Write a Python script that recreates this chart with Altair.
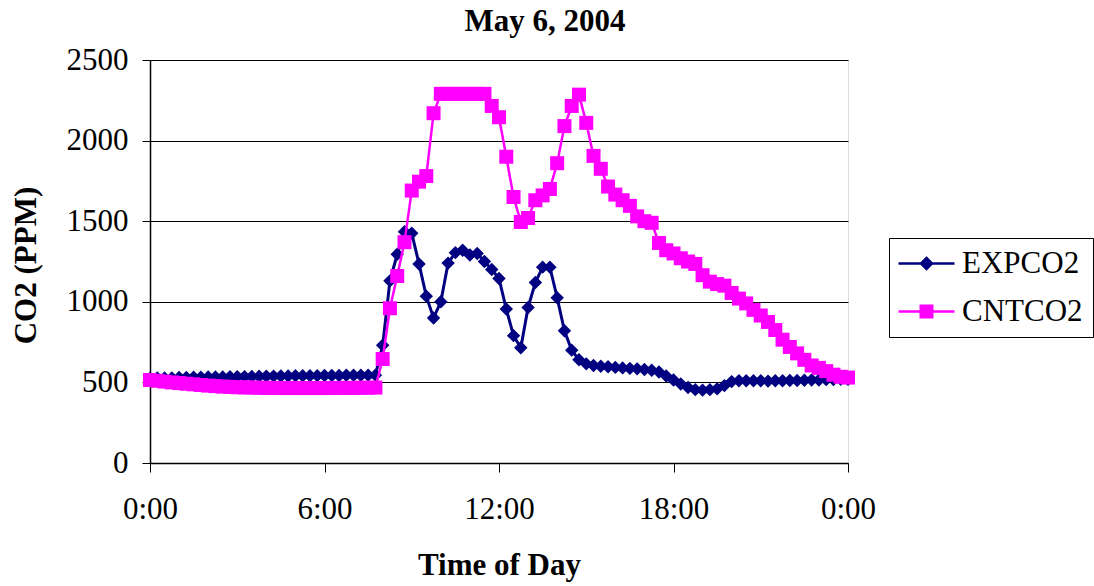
import altair as alt
import pandas as pd

# 15-minute readings, 0:00 .. 24:00 (97 points)
hours = [i * 0.25 for i in range(97)]

exp_co2 = [
    525, 527, 528, 528, 530, 531, 532, 532, 533, 534, 534, 535, 536, 536, 537, 538,
    538, 539, 540, 540, 541, 541, 542, 542, 543, 543, 543, 544, 544, 544, 545, 545,
    730, 1130, 1295, 1435, 1425, 1235, 1035, 900, 1000, 1240, 1305, 1320, 1290, 1300,
    1250, 1200, 1145, 955, 790, 715, 965, 1120, 1215, 1215, 1025, 820, 700, 640, 615,
    605, 600, 597, 593, 590, 587, 584, 580, 575, 565, 540, 515, 490, 468, 455, 452,
    455, 460, 480, 505, 510, 510, 510, 510, 508, 510, 510, 512, 512, 513, 515, 515,
    517, 518, 520, 520,
]

cnt_co2 = [
    515, 510, 505, 500, 496, 492, 488, 484, 480, 477, 474, 472, 470, 469, 468, 467,
    466, 466, 465, 465, 465, 465, 465, 465, 465, 465, 466, 466, 466, 467, 467, 468,
    645, 960, 1160, 1370, 1690, 1745, 1780, 2170, 2290, 2290, 2290, 2290, 2290, 2290,
    2290, 2215, 2145, 1900, 1650, 1495, 1520, 1630, 1660, 1700, 1860, 2090, 2215, 2285,
    2110, 1905, 1825, 1715, 1665, 1630, 1595, 1530, 1500, 1490, 1365, 1320, 1300, 1270,
    1250, 1235, 1165, 1125, 1110, 1100, 1055, 1020, 990, 950, 915, 875, 825, 765, 720,
    680, 640, 605, 590, 570, 548, 535, 530,
]

series_names = ["EXPCO2", "CNTCO2"]
series_colors = ["#000080", "#FF00FF"]
y_ticks = [0, 500, 1000, 1500, 2000, 2500]
x_ticks = [0, 6, 12, 18, 24]

df = pd.concat([
    pd.DataFrame({"hour": hours, "value": exp_co2, "series": "EXPCO2"}),
    pd.DataFrame({"hour": hours, "value": cnt_co2, "series": "CNTCO2"}),
], ignore_index=True)

FONT = "Liberation Serif"

x_enc = alt.X(
    "hour:Q",
    scale=alt.Scale(domain=[0, 24], nice=False, zero=False),
    axis=alt.Axis(
        values=x_ticks, labelExpr="(datum.value % 24) + ':00'",
        title="Time of Day", titleFontWeight="bold", titleFontSize=31,
        titleFont=FONT, titleY=102, titleBaseline="middle",
        labelFont=FONT, labelFontSize=31, labelPadding=22, labelColor="black",
        tickSize=9, tickColor="black", domainColor="black", domainWidth=1.5,
        grid=False, labelFlush=False,
    ),
)
y_enc = alt.Y(
    "value:Q",
    scale=alt.Scale(domain=[0, 2500], nice=False),
    axis=alt.Axis(
        values=y_ticks, format="d", title="CO2 (PPM)", titleFontWeight="bold", titleFontSize=31,
        titleFont=FONT, titleX=-124, titleY=205, titleBaseline="middle", titleAngle=270,
        titleAlign="center",
        labelFont=FONT, labelFontSize=31, labelPadding=14, labelColor="black",
        tickSize=8, tickColor="black", domainColor="black", domainWidth=1.5,
        grid=True, gridColor="black", gridWidth=1.2,
    ),
)

base = alt.Chart(df)

def series_layers(name, color, shape, size, width):
    sub = base.transform_filter(alt.datum.series == name)
    line = sub.mark_line(color=color, strokeWidth=width).encode(x=x_enc, y=y_enc)
    pts = sub.mark_point(color=color, filled=True, opacity=1, shape=shape, size=size).encode(
        x=x_enc, y=y_enc)
    return [line, pts]

# legend layer (invisible points, only supplies the legend symbols)
legend_paths = [
    "M-3.2,0L8,0M2.4,-1.1L3.5,0L2.4,1.1L1.3,0Z",
    "M-3.2,0L8,0M1.25,-1.15L3.55,-1.15L3.55,1.15L1.25,1.15Z",
]
leg = alt.Legend(
    title=None, orient="none", legendX=739, legendY=178,
    labelFont=FONT, labelFontSize=31, labelColor="black", labelOffset=32,
    symbolSize=100, symbolStrokeWidth=2.5, symbolOpacity=1,
    strokeColor="black", fillColor="white", padding=10, rowPadding=16,
)
legend_layer = base.mark_point(opacity=0, filled=True).encode(
    x=x_enc, y=y_enc,
    shape=alt.Shape("series:N", scale=alt.Scale(domain=series_names, range=legend_paths), legend=leg),
    fill=alt.Fill("series:N", scale=alt.Scale(domain=series_names, range=series_colors), legend=leg),
    stroke=alt.Stroke("series:N", scale=alt.Scale(domain=series_names, range=series_colors), legend=leg),
)

layers = (series_layers("EXPCO2", "#000080", "diamond", 180, 3)
          + series_layers("CNTCO2", "#FF00FF", "square", 196, 2.5)
          + [legend_layer])

chart = alt.layer(*layers).properties(
    width=698, height=403,
    title=alt.TitleParams("May 6, 2004", font=FONT, fontSize=31, fontWeight="bold",
                          color="black", anchor="middle", dx=46, offset=6),
    autosize=alt.AutoSizeParams(type="none"),
    padding={"left": 150, "top": 60, "right": 246, "bottom": 123},
).configure_view(
    fill="#C0C0C0", stroke="#808080", strokeWidth=2,
).configure(background="white")

chart.save("out.html", embed_options={"renderer": "svg", "actions": False})
